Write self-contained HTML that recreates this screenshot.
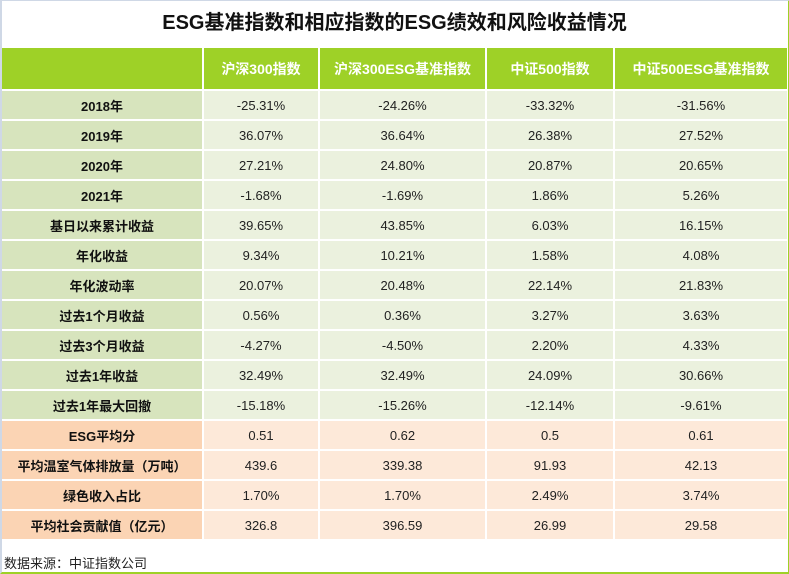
<!DOCTYPE html>
<html><head><meta charset="utf-8"><style>
body{margin:0;width:789px;height:574px;background:#fff;position:relative;overflow:hidden;font-family:"Liberation Sans","Noto Sans CJK SC",sans-serif;}
#frame{position:absolute;left:0;top:0;width:786px;height:571px;border-left:2px solid #cfd8e6;border-top:1px solid #cfd8e6;border-right:2px solid #9ed127;border-bottom:2px solid #9ed127;box-sizing:content-box;}
#title{position:absolute;left:0;width:789px;top:6px;text-align:center;font-size:20px;font-weight:bold;color:#111;}
#tbl{position:absolute;left:2px;top:48px;display:grid;grid-template-columns:200px 114px 165px 126px 172px;grid-template-rows:41px repeat(15,28px);gap:2px;}
#tbl div{display:flex;align-items:center;justify-content:center;font-size:13px;color:#222;}
.h{background:#9ed127;color:#fff!important;font-weight:bold;font-size:14px!important;}
.lg{background:#d7e4bd;font-weight:bold;color:#111!important;}
.dg{background:#ebf1de;}
.lo{background:#fbd4b4;font-weight:bold;color:#111!important;}
.do{background:#fde9d9;}
#src{position:absolute;left:4px;top:553px;font-size:13px;color:#222;}
</style></head><body>
<div id="frame"></div>
<div id="title">ESG基准指数和相应指数的ESG绩效和风险收益情况</div>
<div id="tbl"></div>
<div id="src">数据来源：中证指数公司</div>
<script>
const headers=["","沪深300指数","沪深300ESG基准指数","中证500指数","中证500ESG基准指数"];
const rowLabels=["2018年","2019年","2020年","2021年","基日以来累计收益","年化收益","年化波动率","过去1个月收益","过去3个月收益","过去1年收益","过去1年最大回撤","ESG平均分","平均温室气体排放量（万吨）","绿色收入占比","平均社会贡献值（亿元）"];
const hs300=["-25.31%","36.07%","27.21%","-1.68%","39.65%","9.34%","20.07%","0.56%","-4.27%","32.49%","-15.18%","0.51","439.6","1.70%","326.8"];
const hs300esg=["-24.26%","36.64%","24.80%","-1.69%","43.85%","10.21%","20.48%","0.36%","-4.50%","32.49%","-15.26%","0.62","339.38","1.70%","396.59"];
const zz500=["-33.32%","26.38%","20.87%","1.86%","6.03%","1.58%","22.14%","3.27%","2.20%","24.09%","-12.14%","0.5","91.93","2.49%","26.99"];
const zz500esg=["-31.56%","27.52%","20.65%","5.26%","16.15%","4.08%","21.83%","3.63%","4.33%","30.66%","-9.61%","0.61","42.13","3.74%","29.58"];
const t=document.getElementById('tbl');
headers.forEach((h,i)=>{const d=document.createElement('div');d.className='h';d.textContent=h;


t.appendChild(d);});
const cols=[hs300,hs300esg,zz500,zz500esg];
rowLabels.forEach((lab,r)=>{const o=r>=11;
const l=document.createElement('div');l.className=o?'lo':'lg';l.textContent=lab;


t.appendChild(l);
cols.forEach(c=>{const d=document.createElement('div');d.className=o?'do':'dg';d.textContent=c[r];


t.appendChild(d);});});
</script>
</body></html>
